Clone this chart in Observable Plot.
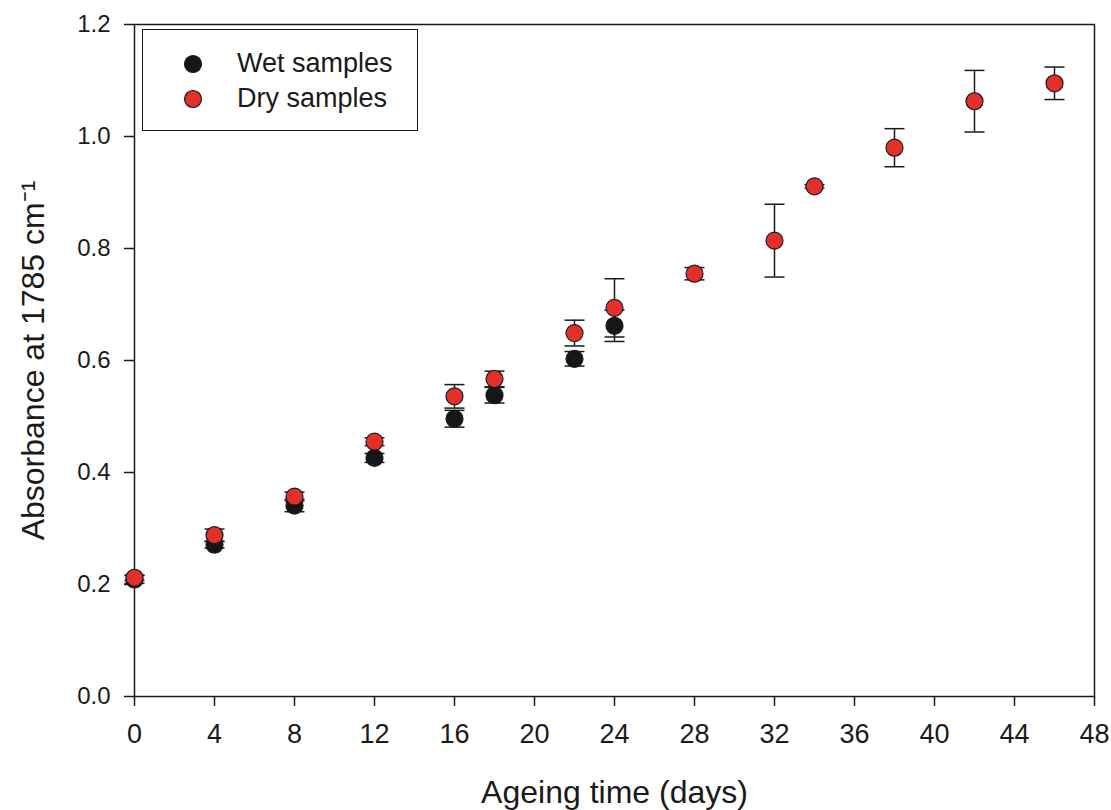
<!DOCTYPE html>
<html>
<head>
<meta charset="utf-8">
<script src="https://cdn.jsdelivr.net/npm/d3@7"></script>
<script src="https://cdn.jsdelivr.net/npm/@observablehq/plot@0.6"></script>
<style>
  body { margin: 0; background: #fff; font-family: "Liberation Sans", Arial, sans-serif; }
  #wrap { position: relative; width: 1111px; height: 810px; }
  #legend { position: absolute; left: 142px; top: 29px; width: 274px; height: 100px; border: 1.5px solid #1a1a1a; background: #fff; }
  .lg-row { position: absolute; left: 0; display: flex; align-items: center; font-size: 27px; color: #1a1a1a; }
  .lg-row svg { margin-left: 40px; margin-right: 34px; }
  g[aria-label="x-axis label"] text { font-size: 32px; font-family: "Liberation Sans", Arial, sans-serif; }
  g[aria-label="y-axis label"] text { font-size: 32px; font-family: "Liberation Sans", Arial, sans-serif; }
</style>
</head>
<body>
<div id="wrap"></div>
<script>
// Ageing time (days)
const wetDays = [0, 4, 8, 12, 16, 18, 22, 24];
const wetValues = [0.209, 0.271, 0.341, 0.426, 0.496, 0.538, 0.603, 0.662];
const wetErrors = [0.007, 0.006, 0.011, 0.008, 0.015, 0.014, 0.013, 0.028];

const dryDays = [0, 4, 8, 12, 16, 18, 22, 24, 28, 32, 34, 38, 42, 46];
const dryValues = [0.212, 0.288, 0.357, 0.455, 0.536, 0.567, 0.649, 0.694, 0.755, 0.814, 0.911, 0.980, 1.063, 1.095];
const dryErrors = [0.005, 0.011, 0.008, 0.007, 0.021, 0.014, 0.023, 0.052, 0.011, 0.065, 0.003, 0.034, 0.055, 0.029];

const xTicks = [0, 4, 8, 12, 16, 20, 24, 28, 32, 36, 40, 44, 48];
const yTicks = [0.0, 0.2, 0.4, 0.6, 0.8, 1.0, 1.2];

const seriesNames = ["Wet samples", "Dry samples"];
const seriesColors = ["#161616", "#e3302b"];

const wet = wetDays.map((d, i) => ({day: d, value: wetValues[i], err: wetErrors[i]}));
const dry = dryDays.map((d, i) => ({day: d, value: dryValues[i], err: dryErrors[i]}));

const capHalf = 0.5; // cap half-width in days
function errMarks(data) {
  return [
    Plot.ruleX(data, {x: "day", y1: d => d.value - d.err, y2: d => d.value + d.err, stroke: "#1a1a1a", strokeWidth: 1.5}),
    Plot.link(data, {x1: d => d.day - capHalf, x2: d => d.day + capHalf, y1: d => d.value + d.err, y2: d => d.value + d.err, stroke: "#1a1a1a", strokeWidth: 1.5}),
    Plot.link(data, {x1: d => d.day - capHalf, x2: d => d.day + capHalf, y1: d => d.value - d.err, y2: d => d.value - d.err, stroke: "#1a1a1a", strokeWidth: 1.5})
  ];
}

const chart = Plot.plot({
  width: 1111,
  height: 810,
  marginLeft: 134,
  marginRight: 17,
  marginTop: 24,
  marginBottom: 114,
  style: {fontFamily: "'Liberation Sans', Arial, sans-serif", fontSize: "24px", color: "#1a1a1a", background: "#fff"},
  x: {domain: [0, 48]},
  y: {domain: [0, 1.2]},
  marks: [
    Plot.frame({stroke: "#1a1a1a", strokeWidth: 1.5}),
    Plot.axisX({ticks: xTicks, tickSize: 10, tickPadding: 17, fontSize: 27, strokeWidth: 1.5, label: "Ageing time (days)", labelAnchor: "center", labelOffset: 106, labelArrow: "none"}),
    Plot.axisY({ticks: yTicks, tickFormat: d3.format(".1f"), tickSize: 10, tickPadding: 14, fontSize: 24, strokeWidth: 1.5, label: "Absorbance at 1785 cm\u207B\u00B9", labelAnchor: "center", labelOffset: 113, labelArrow: "none"}),
    ...errMarks(wet),
    Plot.dot(wet, {x: "day", y: "value", r: 8.5, fill: seriesColors[0], stroke: "#1a1a1a", strokeWidth: 1.2}),
    ...errMarks(dry),
    Plot.dot(dry, {x: "day", y: "value", r: 8.5, fill: seriesColors[1], stroke: "#1a1a1a", strokeWidth: 1.2})
  ]
});

const wrap = document.getElementById("wrap");
wrap.appendChild(chart);

const legend = document.createElement("div");
legend.id = "legend";
seriesNames.forEach((name, i) => {
  const row = document.createElement("div");
  row.className = "lg-row";
  row.style.top = (i === 0 ? 18 : 53) + "px";
  row.innerHTML = `<svg width="20" height="20"><circle cx="10" cy="10" r="8.5" fill="${seriesColors[i]}" stroke="#1a1a1a" stroke-width="1.2"></circle></svg><span>${name}</span>`;
  legend.appendChild(row);
});
wrap.appendChild(legend);
</script>
</body>
</html>
